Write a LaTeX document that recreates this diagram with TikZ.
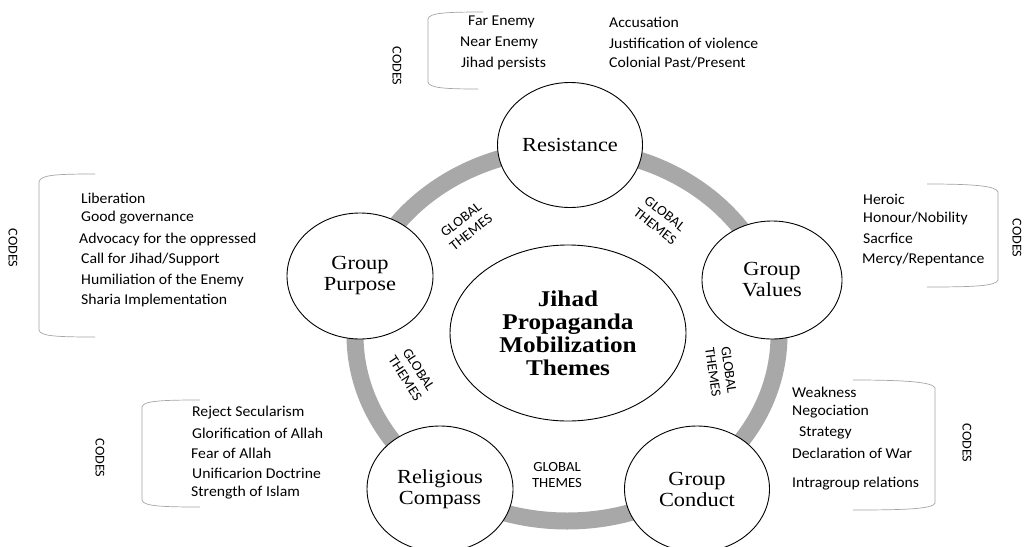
\documentclass[tikz,border=0pt]{standalone}
\usepackage{fontspec}
\setmainfont{Liberation Serif}[FakeStretch=1.12]
\newfontfamily\codefont{Carlito}[FakeStretch=1.05]
\usetikzlibrary{shapes.geometric}
\definecolor{ringgray}{RGB}{168,168,168}
\definecolor{bracketgray}{RGB}{165,165,165}

\begin{document}
\begin{tikzpicture}[x=1pt,y=-1pt,
  theme/.style={ellipse, draw=black, line width=0.9pt, fill=white, inner sep=0pt,
    align=center, font=\fontsize{20}{21}\selectfont},
  core/.style={theme, font=\bfseries\fontsize{22.5}{23}\selectfont},
  glob/.style={font=\codefont\fontsize{14}{16}\selectfont, align=center, inner sep=0pt},
  code/.style={font=\codefont\fontsize{15}{18}\selectfont, anchor=west, inner sep=0pt},
  codes/.style={font=\codefont\fontsize{13.5}{15}\selectfont, rotate=-90, inner sep=0pt},
  bracket/.style={draw=bracketgray, line width=0.7pt}
]
\useasboundingbox (0,0) rectangle (1024,546);

% grey ring linking the five themes
\draw[ringgray, line width=17pt] (567,335) ellipse [x radius=212, y radius=186];

% theme circles
\node[theme, minimum width=145pt, minimum height=125pt] (res) at (570,145) {Resistance};
\node[theme, minimum width=146pt, minimum height=126pt] (pur) at (360,276) {Group\\Purpose};
\node[theme, minimum width=140pt, minimum height=118pt] (val) at (772,280) {Group\\Values};
\node[theme, minimum width=146pt, minimum height=126pt] (rel) at (440,489) {Religious\\Compass};
\node[theme, minimum width=145pt, minimum height=126pt] (con) at (697,489) {Group\\Conduct};
\node[core, minimum width=236pt, minimum height=176pt] (jih) at (568,333)
  {Jihad\\Propaganda\\Mobilization\\Themes};

% global theme labels around the ring
\node[glob, rotate=38] (g1) at (466,226) {GLOBAL\\THEMES};
\node[glob, rotate=-38] (g2) at (660,220) {GLOBAL\\THEMES};
\node[glob, rotate=-82] (g3) at (721,371) {GLOBAL\\THEMES};
\node[glob, rotate=-57] (g4) at (412,374) {GLOBAL\\THEMES};
\node[glob] (g5) at (557,475) {GLOBAL\\THEMES};

% codes: Resistance
\draw[bracket] (483,12) .. controls (445,12) and (429,13) .. (428,19) -- (428,82)
  .. controls (429,88) and (445,89) .. (478,89);
\node[codes] (c1) at (397,66) {CODES};
\node[code] (r1) at (468,22) {Far Enemy};
\node[code] (r2) at (460,43) {Near Enemy};
\node[code] (r3) at (461,63) {Jihad persists};
\node[code] (r4) at (609,22) {Accusation};
\node[code] (r5) at (609,43) {Justification of violence};
\node[code] (r6) at (609,63) {Colonial Past/Present};

% codes: Group Purpose
\draw[bracket] (95,174) .. controls (55,174) and (40,175) .. (39,182) -- (39,330)
  .. controls (40,336) and (55,337) .. (95,337);
\node[codes] (c2) at (13,248) {CODES};
\node[code] (p1) at (81,198) {Liberation};
\node[code] (p2) at (81,218) {Good governance};
\node[code] (p3) at (79,239) {Advocacy for the oppressed};
\node[code] (p4) at (81,259) {Call for Jihad/Support};
\node[code] (p5) at (81,280) {Humiliation of the Enemy};
\node[code] (p6) at (81,300) {Sharia Implementation};

% codes: Group Values
\draw[bracket] (927,184) .. controls (975,184) and (996,186) .. (998,192) -- (998,280)
  .. controls (996,286) and (975,287) .. (927,287);
\node[codes] (c3) at (1017,238) {CODES};
\node[code] (v1) at (863,199) {Heroic};
\node[code] (v2) at (863,218) {Honour/Nobility};
\node[code] (v3) at (863,238) {Sacrfice};
\node[code] (v4) at (862,259) {Mercy/Repentance};

% codes: Group Conduct
\draw[bracket] (853,380) .. controls (905,380) and (933,382) .. (935,388) -- (935,503)
  .. controls (933,509) and (905,510) .. (853,510);
\node[codes] (c4) at (967,443) {CODES};
\node[code] (d1) at (792,392) {Weakness};
\node[code] (d2) at (792,412) {Negociation};
\node[code] (d3) at (799,433) {Strategy};
\node[code] (d4) at (792,453) {Declaration of War};
\node[code] (d5) at (792,484) {Intragroup relations};

% codes: Religious Compass
\draw[bracket] (200,400) .. controls (160,400) and (143,401) .. (142,407) -- (142,500)
  .. controls (143,506) and (160,507) .. (200,507);
\node[codes] (c5) at (100,458) {CODES};
\node[code] (q1) at (192,413) {Reject Secularism};
\node[code] (q2) at (192,433) {Glorification of Allah};
\node[code] (q3) at (191,453) {Fear of Allah};
\node[code] (q4) at (192,473) {Unificarion Doctrine};
\node[code] (q5) at (191,493) {Strength of Islam};
\end{tikzpicture}
\end{document}
